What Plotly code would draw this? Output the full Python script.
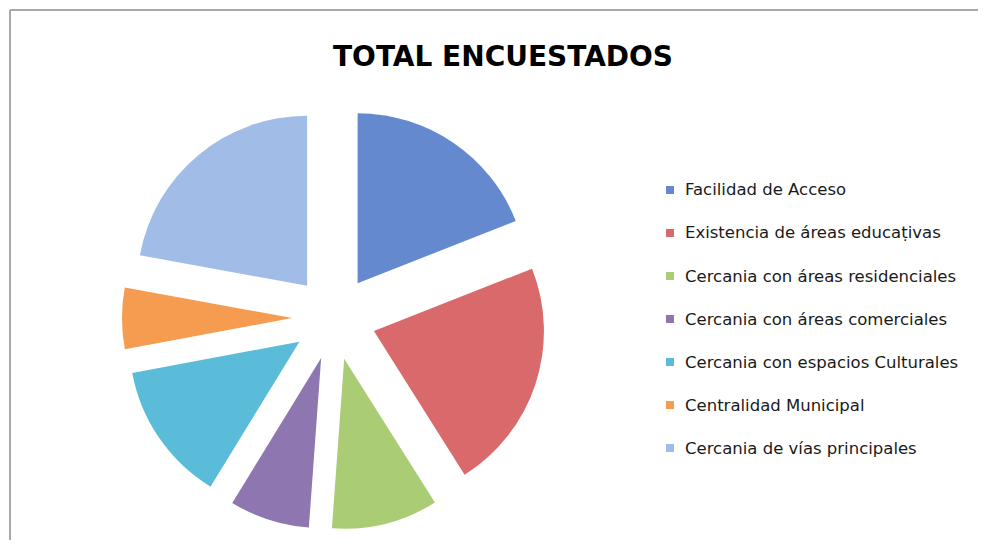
import plotly.graph_objects as go

labels = [
    "Facilidad de Acceso",
    "Existencia de áreas educaṭivas",
    "Cercania con áreas residenciales",
    "Cercania con áreas comerciales",
    "Cercania con espacios Culturales",
    "Centralidad Municipal",
    "Cercania de vías principales",
]
values = [19.0, 22.0, 10.1, 7.6, 13.3, 5.8, 22.1]
colors = ["#6489CF", "#D9696A", "#AACC74", "#8E76B0", "#5BBCDA", "#F59C50", "#A2BCE8"]

# page body has an 8px margin; figure sized to fit inside the 986x550 window
OFF = 8
W, H = 970, 532


def px(x):
    return (x - OFF) / W


def py(y):
    return 1 - (y - OFF) / H


fig = go.Figure()
fig.add_trace(go.Pie(
    labels=labels,
    values=values,
    sort=False,
    direction="clockwise",
    rotation=0,
    pull=[0.247] * len(values),
    marker=dict(colors=colors, line=dict(width=0)),
    textinfo="none",
    hoverinfo="label+percent",
    showlegend=False,
    domain=dict(x=[px(122), px(546)], y=[py(530), py(106)]),
))

border = dict(color="#A8A8A8", width=2)
shapes = [
    dict(type="line", xref="paper", yref="paper",
         x0=px(10), x1=1.0, y0=py(10), y1=py(10), line=border, layer="below"),
    dict(type="line", xref="paper", yref="paper",
         x0=px(10), x1=px(10), y0=py(10), y1=0.0, line=border, layer="below"),
]
annotations = [
    dict(text="<b>TOTAL ENCUESTADOS</b>", xref="paper", yref="paper",
         x=px(503), y=py(57), xanchor="center", yanchor="middle", showarrow=False,
         font=dict(family="DejaVu Sans", size=28, color="#000000")),
]
leg_y0, leg_dy = 190, 43
for i, (lab, col) in enumerate(zip(labels, colors)):
    yc = leg_y0 + i * leg_dy
    shapes.append(dict(type="rect", xref="paper", yref="paper",
                       x0=px(666), x1=px(674), y0=py(yc + 4), y1=py(yc - 4),
                       fillcolor=col, line=dict(width=0)))
    annotations.append(dict(text=lab, xref="paper", yref="paper",
                            x=px(683), y=py(yc), xanchor="left", yanchor="middle",
                            showarrow=False,
                            font=dict(family="DejaVu Sans", size=16.5, color="#1a1a1a")))

fig.update_layout(
    width=W, height=H,
    margin=dict(l=0, r=0, t=0, b=0),
    paper_bgcolor="white",
    plot_bgcolor="white",
    shapes=shapes,
    annotations=annotations,
)

fig.write_html("out.html")
